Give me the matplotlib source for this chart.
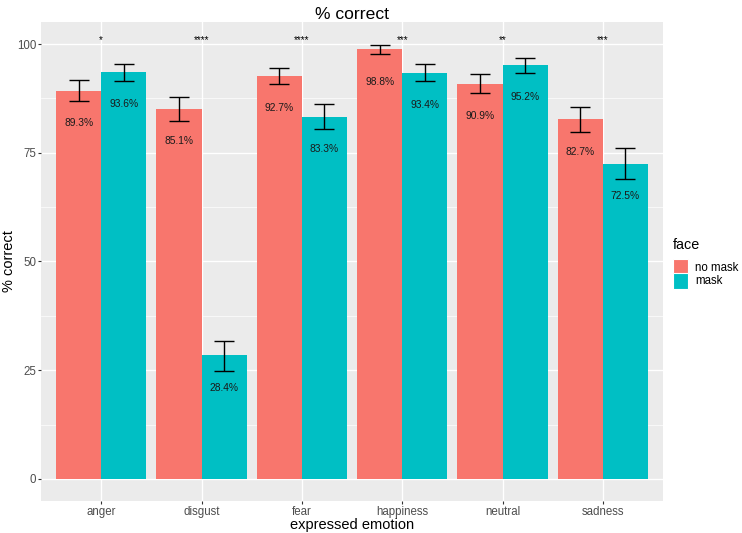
import numpy as np
import matplotlib.pyplot as plt
from matplotlib.patches import Patch, Rectangle
from matplotlib.legend_handler import HandlerPatch
from matplotlib.ticker import MultipleLocator

plt.rcParams['font.family'] = ['Liberation Sans', 'DejaVu Sans']

# --datos
emotions = ['anger', 'disgust', 'fear', 'happiness', 'neutral', 'sadness']
no_mask = [89.3, 85.1, 92.7, 98.8, 90.9, 82.7]
mask = [93.6, 28.4, 83.3, 93.4, 95.2, 72.5]
no_mask_lo = [86.8, 82.3, 90.7, 97.8, 88.7, 79.7]
no_mask_hi = [91.8, 87.8, 94.6, 99.7, 93.0, 85.5]
mask_lo = [91.5, 24.9, 80.5, 91.4, 93.4, 68.9]
mask_hi = [95.4, 31.8, 86.1, 95.3, 96.8, 76.0]
stars = ['*', '****', '****', '***', '**', '***']
star_y = 100.8

red = '#F8766D'
teal = '#00BFC4'

fig = plt.figure(figsize=(7.42, 5.33), dpi=100)
ax = fig.add_axes([0.0553, 0.0606, 0.8383, 0.8976])
ax.set_facecolor('#EBEBEB')

x = np.arange(len(emotions))
w = 0.45
series = [(no_mask, no_mask_lo, no_mask_hi, red, -w / 2),
          (mask, mask_lo, mask_hi, teal, w / 2)]
for vals, lo, hi, col, off in series:
    vals = np.array(vals)
    ax.bar(x + off, vals, width=w, color=col, zorder=2)
    err = [vals - np.array(lo), np.array(hi) - vals]
    ax.errorbar(x + off, vals, yerr=err, fmt='none', ecolor='black',
                elinewidth=1.0, capsize=7.5, capthick=1.0, zorder=3)
    for xi, v in zip(x + off, vals):
        ax.text(xi, v - 7.45, f'{v:.1f}%', ha='center', va='center',
                fontsize=7.4, color='#1A1A1A', zorder=4)

for xi, s in zip(x, stars):
    ax.text(xi, star_y, s, ha='center', va='center', fontsize=7, color='black', zorder=4)

# --ejes estilo ggplot
ax.set_xlim(-0.6, 5.6)
ax.set_ylim(-5, 105)
ax.set_xticks(x)
ax.set_xticklabels(emotions)
ax.yaxis.set_major_locator(MultipleLocator(25))
ax.yaxis.set_minor_locator(MultipleLocator(12.5))
ax.grid(which='major', color='white', linewidth=1.0, zorder=0)
ax.grid(which='minor', axis='y', color='white', linewidth=0.5, zorder=0)
ax.set_axisbelow(True)
for sp in ax.spines.values():
    sp.set_visible(False)
ax.tick_params(which='major', length=2, color='#333333', labelcolor='#4D4D4D', labelsize=8.3, pad=1.5)
ax.tick_params(which='minor', length=0)

ax.set_xlabel('expressed emotion', fontsize=10.5, labelpad=0)
ax.set_ylabel('% correct', fontsize=10.5)
ax.yaxis.set_label_coords(-0.040, 0.5)
ax.set_title('% correct', fontsize=12.6, pad=1.5)


# cuadros de leyenda que llenan toda la fila
def key_box(legend, orig_handle, xdescent, ydescent, width, height, fontsize):
    extra = 0.9
    return Rectangle((-xdescent, -ydescent - extra), width, height + 2 * extra)


handles = [Patch(facecolor=red, edgecolor='white', linewidth=0.8, label='no mask'),
           Patch(facecolor=teal, edgecolor='white', linewidth=0.8, label='mask')]
leg = fig.legend(handles=handles, title='face', loc='center left',
                 bbox_to_anchor=(0.907, 0.507), frameon=False, fontsize=8.3,
                 title_fontsize=10.4, handlelength=1.3, handleheight=1.4,
                 handletextpad=0.6, labelspacing=0.0, borderpad=0.0, borderaxespad=0.0,
                 handler_map={Patch: HandlerPatch(patch_func=key_box)})
leg._legend_box.align = 'left'
leg._legend_box.sep = 6

fig.savefig('out.png', dpi=100)
